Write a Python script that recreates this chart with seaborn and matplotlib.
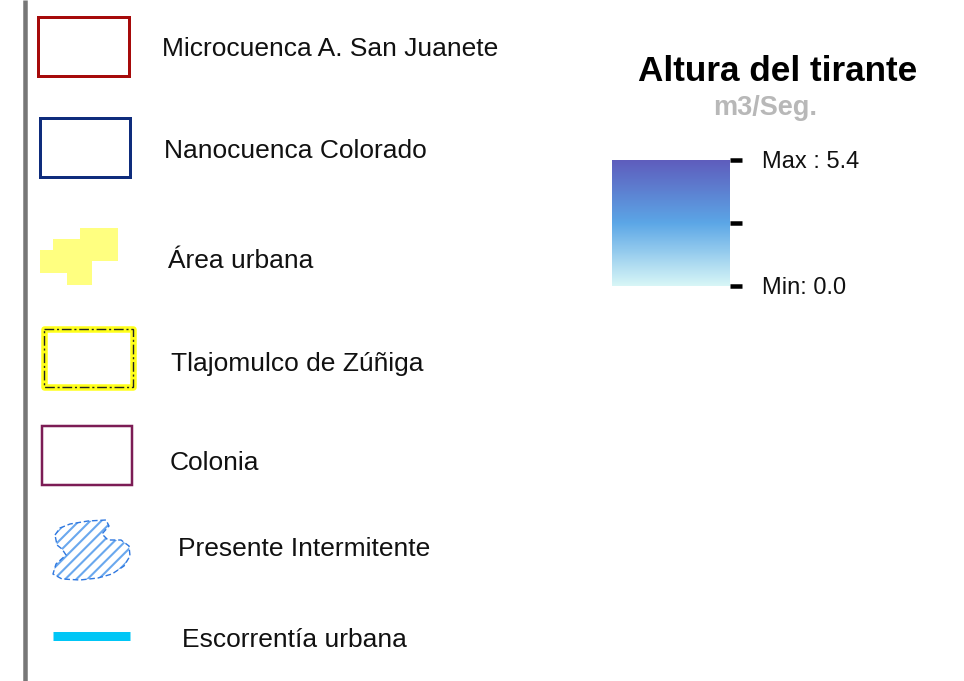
import numpy as np
import matplotlib
matplotlib.use('Agg')
import matplotlib.pyplot as plt
import seaborn as sns
from matplotlib.patches import Rectangle, Polygon
from matplotlib.colors import LinearSegmentedColormap, Normalize
from matplotlib.cm import ScalarMappable

# legend entries
legend_labels = ['Microcuenca A. San Juanete', 'Nanocuenca Colorado', 'Área urbana',
                 'Tlajomulco de Zúñiga', 'Colonia', 'Presente Intermitente', 'Escorrentía urbana']
legend_colors = ['#a60a0a', '#0e2c7c', '#ffff80', '#ffff1a', '#7c1c55', '#6aa8ee', '#00c6f6']

# colour ramp legend
ramp_title = 'Altura del tirante'
ramp_unit = 'm3/Seg.'
ramp_min, ramp_max = 0.0, 5.4
ramp_colors = ['#d8f6f6', '#5ba6e6', '#5e5cbc']

sns.set_theme(style='white')
plt.rcParams['font.family'] = ['Liberation Sans', 'DejaVu Sans']
plt.rcParams['hatch.linewidth'] = 1.5

PX = 0.72  # points per pixel at dpi 100
fig = plt.figure(figsize=(9.64, 6.81), dpi=100)
ax = fig.add_axes([0, 0, 1, 1])
ax.set_xlim(0, 964)
ax.set_ylim(681, 0)
ax.axis('off')

# grey frame line on the left
ax.plot([25, 25], [0, 681], color='#777777', lw=4.5 * PX, solid_capstyle='butt')

# boxes
ax.add_patch(Rectangle((38, 16.5), 90.5, 59, fill=False, ec=legend_colors[0], lw=3 * PX))
ax.add_patch(Rectangle((40, 118), 90, 59, fill=False, ec=legend_colors[1], lw=3 * PX))

urban = [(80, 228), (118, 228), (118, 261), (92, 261), (92, 285), (67, 285), (67, 273),
         (40, 273), (40, 250), (53, 250), (53, 239), (80, 239)]
ax.add_patch(Polygon(urban, closed=True, fc=legend_colors[2], ec='none'))

ax.add_patch(Rectangle((43.5, 329), 89.5, 58, fill=False, ec=legend_colors[3], lw=6.5 * PX,
                       joinstyle='round'))
ax.add_patch(Rectangle((43.5, 329), 89.5, 58, fill=False, ec='#222222', lw=1.0,
                       ls=(0, (7, 2, 1.5, 2))))

ax.add_patch(Rectangle((42, 426), 90, 58.5, fill=False, ec=legend_colors[4], lw=2.5 * PX))

blob = [(55, 535), (60, 528), (70, 524), (88, 521), (106, 520), (109, 526), (102, 534),
        (108, 540), (121, 540), (129, 546), (130, 556), (124, 566), (112, 574), (98, 578),
        (80, 580), (62, 579), (53, 574), (56, 564), (66, 555), (62, 549), (57, 545)]
ax.add_patch(Polygon(blob, closed=True, fc='white', ec=legend_colors[5], lw=0, hatch='///'))
ax.add_patch(Polygon(blob, closed=True, fill=False, ec='#2f78e0', lw=1.0, ls=(0, (4, 2))))

ax.plot([53, 130], [635.5, 635.5], color=legend_colors[6], lw=9 * PX, solid_capstyle='butt')

# labels
label_pos = [(162, 56), (164, 158), (168, 268), (171, 371), (170, 470), (178, 556), (182, 647)]
for (x, y), lab in zip(label_pos, legend_labels):
    ax.text(x, y, lab, fontsize=19, color='#111111', va='baseline', ha='left')

# colour ramp
ax.text(777.5, 81, ramp_title, fontsize=25.3, fontweight='bold', color='black',
        ha='center', va='baseline')
ax.text(765, 115, ramp_unit, fontsize=19.5, fontweight='bold', color='#b8b8b8',
        ha='center', va='baseline')

cmap = LinearSegmentedColormap.from_list('tirante', ramp_colors)
sm = ScalarMappable(norm=Normalize(ramp_min, ramp_max), cmap=cmap)
cax = fig.add_axes([612 / 964, 1 - 286 / 681, 118 / 964, 126 / 681])
cb = fig.colorbar(sm, cax=cax)
cb.outline.set_visible(False)
cb.set_ticks([ramp_min, (ramp_min + ramp_max) / 2, ramp_max])
cb.set_ticklabels([f'Min: {ramp_min:.1f}', '', f'Max : {ramp_max:.1f}'])
cax.tick_params(axis='y', length=12 * PX, width=4.5 * PX, pad=20 * PX, direction='out',
                color='black', labelsize=17, labelcolor='#111111')

fig.savefig('out.png', dpi=100)
